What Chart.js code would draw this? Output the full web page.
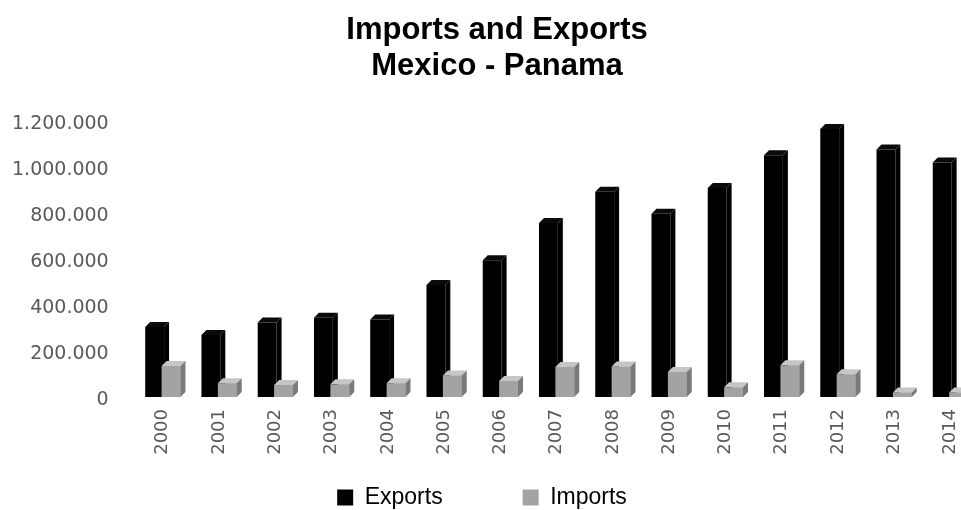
<!DOCTYPE html>
<html>
<head>
<meta charset="utf-8">
<script src="https://cdn.jsdelivr.net/npm/chart.js@4.4.1/dist/chart.umd.min.js"></script>
<style>
html,body{margin:0;padding:0;background:#ffffff;overflow:hidden;width:961px;height:510px}
canvas{display:block}
</style>
</head>
<body>
<canvas id="c" width="984" height="510" style="width:984px;height:510px"></canvas>
<script>
// ---- data ----
const years = ['2000','2001','2002','2003','2004','2005','2006','2007','2008','2009','2010','2011','2012','2013','2014'];
const exportsValues = [305000, 270000, 325000, 345000, 338000, 488000, 596000, 758000, 894000, 798000, 910000, 1053000, 1168000, 1078000, 1022000];
const importsValues = [135000, 60000, 52000, 55000, 60000, 94000, 70000, 131000, 133000, 109000, 42000, 138000, 99000, 20000, 20000];
const seriesNames = ['Exports', 'Imports'];
const titleLines = ['Imports and Exports', 'Mexico - Panama'];
const yMin = 0, yMax = 1200000, yStep = 200000;

// ---- styling ----
const GRAY_FRONT = '#a3a3a3', GRAY_TOP = '#c6c6c6', GRAY_SIDE = '#7a7a7a';
const AXIS_TEXT = '#595959';

function fmt(v) {
  return String(v).replace(/\B(?=(\d{3})+(?!\d))/g, '.');
}

function faces(ctx, el, topColor, sideColor) {
  const dx = 5, dy = 5;
  const l = el.x - el.width / 2, r = el.x + el.width / 2, t = el.y, b = el.base;
  ctx.fillStyle = topColor;
  ctx.beginPath();
  ctx.moveTo(l, t); ctx.lineTo(l + dx, t - dy); ctx.lineTo(r + dx, t - dy); ctx.lineTo(r, t);
  ctx.closePath(); ctx.fill();
  ctx.fillStyle = sideColor;
  ctx.beginPath();
  ctx.moveTo(r, t); ctx.lineTo(r + dx, t - dy); ctx.lineTo(r + dx, b - dy); ctx.lineTo(r, b);
  ctx.closePath(); ctx.fill();
}

const bars3d = {
  id: 'bars3d',
  afterLayout(chart) {
    // let the rotated year labels extend below the compact axis box (no clipping)
    const x = chart.scales.x;
    x.bottom = x.top + 62;
    // fine horizontal placement of the title and legend blocks
    if (chart.titleBlock) { chart.titleBlock.left += 5; chart.titleBlock.right += 5; }
    if (chart.legend) { chart.legend.left -= 10; chart.legend.right -= 10; }
  },
  afterDatasetsDraw(chart) {
    const ctx = chart.ctx;
    const m0 = chart.getDatasetMeta(0), m1 = chart.getDatasetMeta(1);
    ctx.save();
    m0.data.forEach(el => faces(ctx, el, '#0a0a0a', '#000000'));
    m1.data.forEach(el => { el.draw(ctx); faces(ctx, el, GRAY_TOP, GRAY_SIDE); });
    ctx.restore();
  }
};

new Chart(document.getElementById('c'), {
  type: 'bar',
  data: {
    labels: years,
    datasets: [
      { label: seriesNames[0], data: exportsValues, backgroundColor: '#000000', borderWidth: 0 },
      { label: seriesNames[1], data: importsValues, backgroundColor: GRAY_FRONT, borderWidth: 0 }
    ]
  },
  options: {
    responsive: false,
    animation: false,
    devicePixelRatio: 1,
    categoryPercentage: 0.583,
    barPercentage: 1.15,
    layout: { padding: { left: 0, right: 0, top: 0, bottom: -9 } },
    plugins: {
      title: {
        display: true,
        text: titleLines,
        color: '#000000',
        font: { family: 'Liberation Sans', size: 31, weight: 'bold', lineHeight: 1.17 },
        padding: { top: 12, bottom: 37 }
      },
      legend: {
        position: 'bottom',
        labels: {
          color: '#000000',
          font: { family: 'Liberation Sans', size: 23 },
          boxWidth: 16, boxHeight: 16,
          padding: 80
        }
      },
      tooltip: { enabled: false }
    },
    scales: {
      x: {
        grid: { display: false, drawTicks: false },
        border: { display: false },
        afterFit(scale) { scale.height = 9; },
        ticks: {
          color: AXIS_TEXT,
          font: { family: 'DejaVu Sans', size: 18 },
          minRotation: 90, maxRotation: 90,
          padding: 12,
          autoSkip: false
        }
      },
      y: {
        min: yMin, max: yMax,
        grid: { display: false, drawTicks: false },
        border: { display: false },
        afterFit(scale) { scale.width = 134.7; },
        ticks: {
          stepSize: yStep,
          color: AXIS_TEXT,
          font: { family: 'DejaVu Sans', size: 19 },
          padding: 26,
          labelOffset: 3,
          callback: v => fmt(v)
        }
      }
    }
  },
  plugins: [bars3d]
});
</script>
</body>
</html>
